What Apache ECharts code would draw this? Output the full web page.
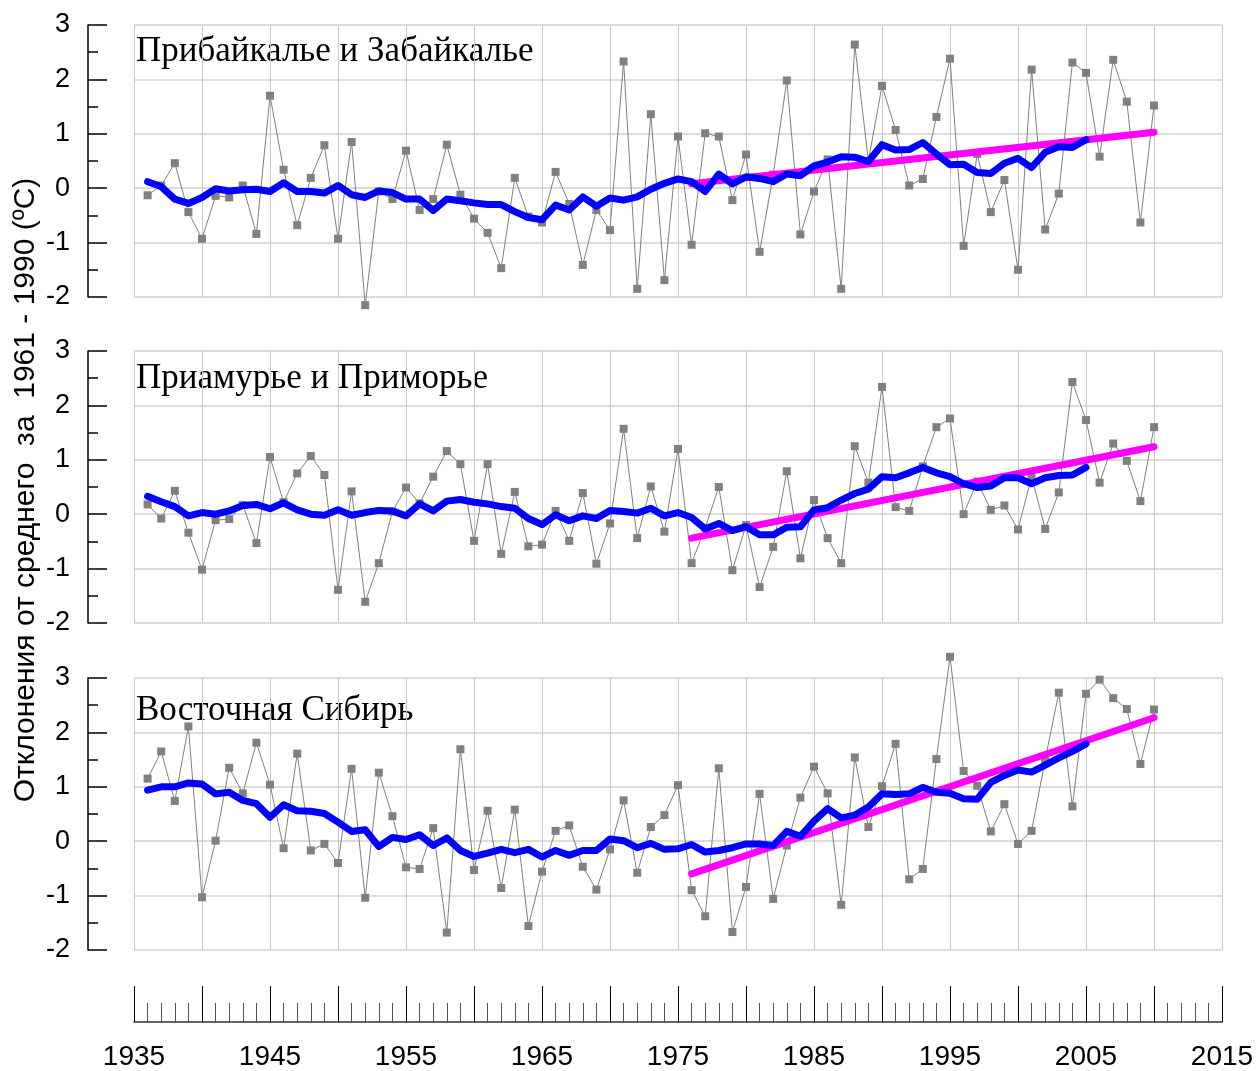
<!DOCTYPE html>
<html>
<head>
<meta charset="utf-8">
<script src="https://cdn.jsdelivr.net/npm/echarts@6/dist/echarts.min.js"></script>
<style>
  html, body { margin: 0; padding: 0; background: #fff; }
  #chart { width: 1258px; height: 1071px; }
</style>
</head>
<body>
<div id="chart"></div>
<script>
// Annual temperature anomalies (°C, relative to 1961–1990), 1936–2010
const years = [
  1936, 1937, 1938, 1939, 1940, 1941, 1942, 1943, 1944, 1945,
  1946, 1947, 1948, 1949, 1950, 1951, 1952, 1953, 1954, 1955,
  1956, 1957, 1958, 1959, 1960, 1961, 1962, 1963, 1964, 1965,
  1966, 1967, 1968, 1969, 1970, 1971, 1972, 1973, 1974, 1975,
  1976, 1977, 1978, 1979, 1980, 1981, 1982, 1983, 1984, 1985,
  1986, 1987, 1988, 1989, 1990, 1991, 1992, 1993, 1994, 1995,
  1996, 1997, 1998, 1999, 2000, 2001, 2002, 2003, 2004, 2005,
  2006, 2007, 2008, 2009, 2010
];

// Smoothed curve runs 1936–2005
const smoothYears = years.slice(0, 70);

// Linear trend endpoints (1976–2010)
const trendYears = [1976, 2010];

const regionNames = [
  'Прибайкалье и Забайкалье',
  'Приамурье и Приморье',
  'Восточная Сибирь'
];

const baikalAnnual = [
  -0.13, 0.05, 0.46, -0.44, -0.93, -0.14, -0.17, 0.05, -0.84, 1.70,
  0.34, -0.68, 0.19, 0.79, -0.93, 0.85, -2.15, -0.06, -0.20, 0.69,
  -0.40, -0.20, 0.80, -0.12, -0.56, -0.82, -1.47, 0.19, -0.52, -0.63,
  0.30, -0.29, -1.41, -0.40, -0.77, 2.33, -1.85, 1.36, -1.69, 0.95,
  -1.04, 1.01, 0.95, -0.22, 0.62, -1.17, 0.25, 1.98, -0.85, -0.06,
  0.53, -1.85, 2.64, 0.50, 1.88, 1.07, 0.05, 0.17, 1.31, 2.38,
  -1.06, 0.63, -0.44, 0.15, -1.50, 2.18, -0.76, -0.10, 2.31, 2.12,
  0.58, 2.36, 1.59, -0.63, 1.52
];
const baikalSmooth = [
  0.12, 0.03, -0.20, -0.28, -0.17, -0.01, -0.05, -0.03, -0.02, -0.06,
  0.10, -0.06, -0.06, -0.09, 0.05, -0.12, -0.17, -0.05, -0.08, -0.20,
  -0.20, -0.41, -0.20, -0.23, -0.27, -0.30, -0.30, -0.43, -0.54, -0.58,
  -0.31, -0.40, -0.16, -0.33, -0.18, -0.22, -0.16, -0.02, 0.09, 0.17,
  0.12, -0.06, 0.26, 0.08, 0.21, 0.18, 0.12, 0.26, 0.23, 0.41,
  0.48, 0.58, 0.57, 0.49, 0.80, 0.70, 0.71, 0.84, 0.63, 0.43,
  0.44, 0.29, 0.27, 0.46, 0.55, 0.38, 0.66, 0.76, 0.75, 0.89
];
const baikalTrend = [0.08, 1.03];

const amurAnnual = [
  0.18, -0.08, 0.43, -0.34, -1.02, -0.11, -0.09, 0.17, -0.53, 1.05,
  0.22, 0.75, 1.07, 0.72, -1.39, 0.42, -1.61, -0.90, 0.05, 0.49,
  0.20, 0.69, 1.16, 0.92, -0.49, 0.92, -0.73, 0.41, -0.59, -0.56,
  0.06, -0.49, 0.39, -0.91, -0.17, 1.57, -0.44, 0.51, -0.32, 1.20,
  -0.90, -0.25, 0.50, -1.03, -0.20, -1.34, -0.60, 0.79, -0.81, 0.26,
  -0.44, -0.90, 1.25, 0.58, 2.34, 0.13, 0.06, 0.88, 1.60, 1.76,
  0.00, 0.60, 0.08, 0.16, -0.28, 0.69, -0.27, 0.40, 2.43, 1.73,
  0.58, 1.30, 0.98, 0.24, 1.60
];
const amurSmooth = [
  0.33, 0.23, 0.14, -0.03, 0.03, 0.00, 0.06, 0.16, 0.18, 0.10,
  0.21, 0.08, 0.00, -0.02, 0.08, -0.02, 0.03, 0.07, 0.06, -0.03,
  0.19, 0.06, 0.24, 0.27, 0.22, 0.19, 0.14, 0.11, -0.08, -0.19,
  -0.01, -0.12, -0.03, -0.08, 0.07, 0.05, 0.02, 0.11, -0.03, 0.03,
  -0.06, -0.27, -0.17, -0.30, -0.23, -0.38, -0.38, -0.24, -0.23, 0.08,
  0.12, 0.26, 0.38, 0.46, 0.69, 0.67, 0.76, 0.86, 0.76, 0.69,
  0.56, 0.49, 0.52, 0.67, 0.67, 0.56, 0.67, 0.71, 0.72, 0.86
];
const amurTrend = [-0.44, 1.24];

const siberiaAnnual = [
  1.15, 1.65, 0.74, 2.11, -1.03, 0.01, 1.35, 0.88, 1.81, 1.04,
  -0.13, 1.61, -0.17, -0.05, -0.40, 1.33, -1.04, 1.26, 0.46, -0.48,
  -0.51, 0.24, -1.68, 1.69, -0.53, 0.56, -0.86, 0.58, -1.56, -0.56,
  0.19, 0.29, -0.47, -0.89, -0.15, 0.75, -0.58, 0.26, 0.48, 1.03,
  -0.90, -1.38, 1.34, -1.67, -0.84, 0.87, -1.06, -0.08, 0.80, 1.37,
  0.88, -1.17, 1.54, 0.26, 1.01, 1.79, -0.70, -0.51, 1.51, 3.39,
  1.29, 1.02, 0.18, 0.68, -0.05, 0.19, 1.50, 2.73, 0.64, 2.71,
  2.97, 2.63, 2.43, 1.42, 2.42
];
const siberiaSmooth = [
  0.94, 1.00, 1.00, 1.07, 1.05, 0.87, 0.90, 0.75, 0.69, 0.44,
  0.67, 0.56, 0.55, 0.51, 0.35, 0.18, 0.21, -0.10, 0.07, 0.03,
  0.12, -0.08, 0.06, -0.17, -0.28, -0.22, -0.15, -0.21, -0.15, -0.29,
  -0.17, -0.26, -0.17, -0.17, 0.04, 0.01, -0.12, -0.04, -0.15, -0.14,
  -0.06, -0.20, -0.17, -0.12, -0.05, -0.05, -0.08, 0.18, 0.09, 0.37,
  0.60, 0.43, 0.48, 0.63, 0.87, 0.86, 0.87, 0.99, 0.90, 0.88,
  0.78, 0.77, 1.08, 1.21, 1.31, 1.27, 1.40, 1.53, 1.65, 1.79
];
const siberiaTrend = [-0.60, 2.27];

const yTicks = [-2, -1, 0, 1, 2, 3];
const xTickLabels = [1935, 1945, 1955, 1965, 1975, 1985, 1995, 2005, 2015];

const yAxisTitle = 'Отклонения от среднего  за  1961 - 1990 (ºС)';

// ---- chart construction ----
const panels = [
  { annual: baikalAnnual, smooth: baikalSmooth, trend: baikalTrend },
  { annual: amurAnnual, smooth: amurSmooth, trend: amurTrend },
  { annual: siberiaAnnual, smooth: siberiaSmooth, trend: siberiaTrend }
];

const panelTops = [25, 351, 678];
const panelHeight = 272;
const plotLeft = 134;
const plotRight = 36;
const sansFont = '"Liberation Sans", Arial, sans-serif';
const serifFont = '"Liberation Serif", "Times New Roman", serif';

const pairs = (xs, ys) => ys.map((v, i) => [xs[i], v]);

const grid = panelTops.map(t => ({ left: plotLeft, right: plotRight, top: t, height: panelHeight }));
grid.push({ left: plotLeft, right: plotRight, top: 986, height: 36 });

const xAxis = panelTops.map((t, i) => ({
  type: 'value', gridIndex: i, min: 1935, max: 2015, interval: 5,
  axisLine: { show: false }, axisTick: { show: false }, axisLabel: { show: false },
  splitLine: { show: true, lineStyle: { color: '#c8c8c8', width: 1 } }
}));
xAxis.push({
  type: 'value', gridIndex: 3, min: 1935, max: 2015, interval: 5, position: 'bottom',
  axisLine: { show: true, lineStyle: { color: '#333', width: 1.5 } },
  axisTick: { show: true, inside: true, length: 36, lineStyle: { color: '#000', width: 1 } },
  minorTick: { show: true, splitNumber: 5, length: 19, lineStyle: { color: '#555', width: 1 } },
  splitLine: { show: false },
  axisLabel: {
    show: true, margin: 21, fontSize: 28, fontFamily: sansFont, color: '#000',
    formatter: v => (xTickLabels.indexOf(v) >= 0 ? String(v) : '')
  }
});

const yAxis = panelTops.map((t, i) => ({
  type: 'value', gridIndex: i, min: yTicks[0], max: yTicks[yTicks.length - 1], interval: 1,
  offset: 46,
  axisLine: { show: true, lineStyle: { color: '#000', width: 1.5 } },
  axisTick: { show: true, inside: true, length: 19, lineStyle: { color: '#000', width: 1.5 } },
  minorTick: { show: true, splitNumber: 2, length: 10, lineStyle: { color: '#000', width: 1.5 } },
  axisLabel: { show: true, margin: 18, fontSize: 27, fontFamily: sansFont, color: '#000' },
  splitLine: { show: true, lineStyle: { color: '#dcdcdc', width: 2 } }
}));
yAxis.push({ type: 'value', gridIndex: 3, show: false });

const series = [];
panels.forEach((p, i) => {
  series.push({
    type: 'line', xAxisIndex: i, yAxisIndex: i, z: 2, clip: false,
    data: pairs(years, p.annual),
    symbol: 'rect', symbolSize: 8,
    itemStyle: { color: '#808080' },
    lineStyle: { color: '#808080', width: 1 },
    emphasis: { disabled: true }, silent: true
  });
  series.push({
    type: 'line', xAxisIndex: i, yAxisIndex: i, z: 3, clip: false,
    data: pairs(trendYears, p.trend),
    symbol: 'none',
    lineStyle: { color: '#ff00ff', width: 7, cap: 'round' },
    emphasis: { disabled: true }, silent: true
  });
  series.push({
    type: 'line', xAxisIndex: i, yAxisIndex: i, z: 4, clip: false,
    data: pairs(smoothYears, p.smooth),
    symbol: 'none',
    lineStyle: { color: '#0000ff', width: 7, cap: 'round', join: 'round' },
    emphasis: { disabled: true }, silent: true
  });
});

const titleCenters = [52, 379, 711];
const graphic = regionNames.map((name, i) => ({
  type: 'text', x: 136, y: titleCenters[i], silent: true,
  style: { text: name, fontSize: 35, fontFamily: serifFont, fill: '#000', align: 'left', verticalAlign: 'middle' }
}));
graphic.push({
  type: 'text', x: 26, y: 490, rotation: Math.PI / 2, silent: true,
  style: { text: yAxisTitle, fontSize: 30, fontFamily: sansFont, fill: '#000', align: 'center', verticalAlign: 'middle' }
});

const chart = echarts.init(document.getElementById('chart'), null, { renderer: 'canvas' });
chart.setOption({
  animation: false,
  backgroundColor: '#fff',
  grid, xAxis, yAxis, series, graphic
});
</script>
</body>
</html>
